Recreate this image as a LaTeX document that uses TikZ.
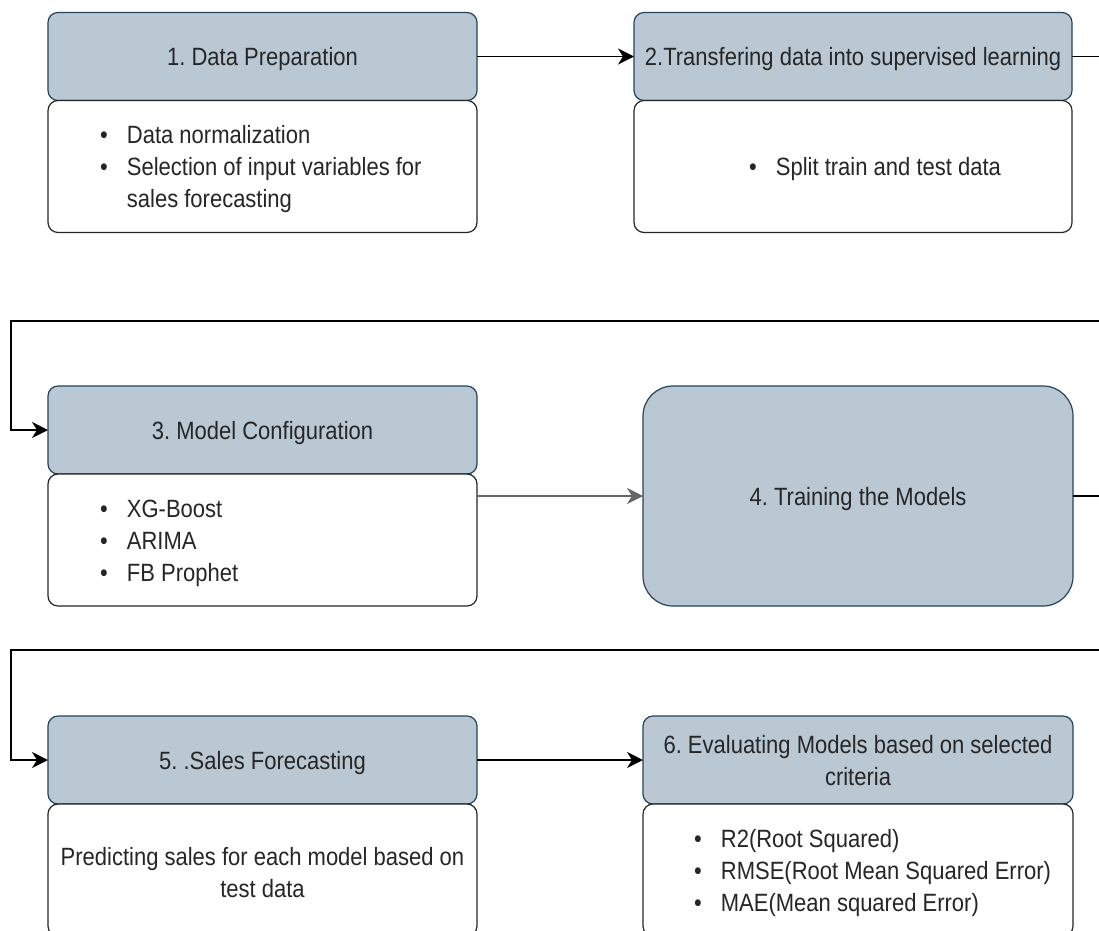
\documentclass[tikz,border=0pt]{standalone}
\usepackage{fontspec}
\setmainfont{Liberation Sans}[FakeStretch=0.88]
\usetikzlibrary{arrows.meta,positioning}
\definecolor{headfill}{HTML}{BAC8D3}
\definecolor{headline}{HTML}{23445D}

\begin{document}
\begin{tikzpicture}
  [x=1pt,y=-1pt,font=\fontsize{25}{32}\selectfont\frenchspacing]
      \tikzstyle{head_style} = [draw=headline, fill=headfill, line width=1.2pt, rounded corners=10pt, minimum width=429pt, minimum height=88pt, inner sep=0pt, outer sep=0pt, text=black!85, align=center, text depth=0pt]
      \tikzstyle{body_style} = [draw=black!85, fill=white, line width=1.2pt, rounded corners=10pt, minimum width=429pt, minimum height=132pt, inner sep=0pt, outer sep=0pt]
      \tikzstyle{list_style} = [anchor=west, inner sep=0pt, text=black!85, yshift=-3pt]
      \tikzstyle{edge_style} = [draw=black, line width=1.6pt, -{Stealth[length=16pt,width=16pt,inset=5pt]}]
  \useasboundingbox[fill=white] (0,0) rectangle (1099,930);
  % first row
  \node[head_style] (h1) at (262.5,56.5) {1. Data Preparation};
  \node[body_style, below=0pt of h1] (b1) {};
  \node[list_style] (l1) at ([xshift=52pt]b1.west) {\begin{tabular}{@{}l@{\hspace{19pt}}l@{}}\textbullet & Data normalization\\ \textbullet & Selection of input variables for\\ & sales forecasting\end{tabular}};
  \node[head_style, minimum width=438pt] (h2) at (853,56.5) {2.Transfering data into supervised learning};
  \node[body_style, minimum width=438pt, below=0pt of h2] (b2) {};
  \node[list_style] (l2) at ([xshift=115pt]b2.west) {\begin{tabular}{@{}l@{\hspace{19pt}}l@{}}\textbullet & Split train and test data\end{tabular}};
  % second row
  \node[head_style] (h3) at (262.5,430) {3. Model Configuration};
  \node[body_style, below=0pt of h3] (b3) {};
  \node[list_style] (l3) at ([xshift=52pt]b3.west) {\begin{tabular}{@{}l@{\hspace{19pt}}l@{}}\textbullet & XG-Boost\\ \textbullet & ARIMA\\ \textbullet & FB Prophet\end{tabular}};
  \node[head_style, rounded corners=30pt, minimum width=430pt, minimum height=220pt] (h4) at (858,496) {4. Training the Models};
  % third row
  \node[head_style] (h5) at (262.5,760) {5. .Sales Forecasting};
  \node[body_style, below=0pt of h5] (b5) {};
  \node[list_style, anchor=center, align=center] (l5) at (b5) {Predicting sales for each model based on\\test data};
  \node[head_style, minimum width=430pt] (h6) at (858,760) {6. Evaluating Models based on selected\\criteria};
  \node[body_style, minimum width=430pt, below=0pt of h6] (b6) {};
  \node[list_style] (l6) at ([xshift=51pt]b6.west) {\begin{tabular}{@{}l@{\hspace{19pt}}l@{}}\textbullet & R2(Root Squared)\\ \textbullet & RMSE(Root Mean Squared Error)\\ \textbullet & MAE(Mean squared Error)\end{tabular}};
  % bends
  \coordinate (c1) at (1115,321);
  \coordinate (c2) at (11,321);
  \coordinate (c3) at (1115,650);
  \coordinate (c4) at (11,650);
  \draw[edge_style] (h1) -- (h2);
  \draw[edge_style] (h2.east) -| (c1) -- (c2) |- (h3.west);
  \draw[edge_style, draw=black!60] (b3.east |- h4.west) -- (h4.west);
  \draw[edge_style] (h4.east) -| (c3) -- (c4) |- (h5.west);
  \draw[edge_style] (h5) -- (h6);
\end{tikzpicture}
\end{document}
